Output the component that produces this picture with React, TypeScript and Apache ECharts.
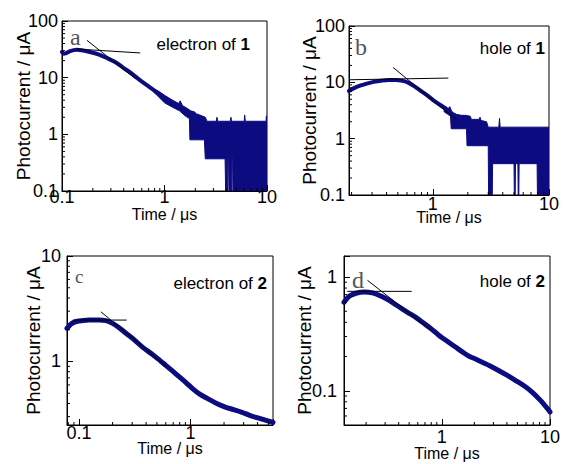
import React, { useEffect, useRef } from "react";
import * as echarts from "echarts";

const NAVY = "#0c0c80";
const SANS = "'Liberation Sans', Arial, sans-serif";
const SERIF = "'Liberation Serif', 'Times New Roman', serif";

// ---- Panel a: electron of 1 ----
const aTime = [0.1, 0.104, 0.11, 0.12, 0.13, 0.14, 0.155, 0.17, 0.2, 0.23, 0.27, 0.33, 0.4, 0.48, 0.56, 0.7, 0.85, 1.0, 1.2];
const aCurr = [28.4, 26.5, 27.2, 29.3, 30.6, 31.0, 30.5, 29.5, 27.5, 25.5, 22.5, 18.9, 14.8, 11.8, 9.4, 7.0, 5.4, 4.3, 3.4];
const aBandTopT = [0.8, 0.9, 1.0, 1.1, 1.2, 1.3, 1.38, 1.42, 1.5, 1.6, 1.7, 1.8, 1.95, 2.05, 2.2, 2.35, 2.5, 2.6, 3.2, 3.25, 3.3, 4.4, 4.45, 4.5, 6.0, 6.05, 6.15, 9.8, 9.85, 10];
const aBandTopV = [6.3, 5.6, 4.9, 4.4, 4.0, 3.7, 3.5, 3.9, 3.2, 3.0, 2.8, 2.6, 2.5, 2.3, 2.2, 2.1, 2.0, 1.7, 1.7, 2.0, 1.7, 1.7, 2.0, 1.7, 1.7, 2.2, 1.7, 1.7, 2.1, 2.1];
const aBandBotT = [0.8, 1.0, 1.2, 1.4, 1.6, 1.75, 1.77, 2.45, 2.5, 3.9, 3.95, 4.12, 4.15, 4.22, 4.25, 4.52, 4.55, 4.62, 4.65, 10];
const aBandBotV = [5.4, 3.6, 3.0, 2.6, 2.1, 1.9, 0.8, 0.8, 0.37, 0.37, 0.1, 0.1, 0.37, 0.37, 0.1, 0.1, 0.37, 0.37, 0.1, 0.1];
const aFitFlatT = [0.14, 0.58];
const aFitFlatV = [32, 27.3];
const aFitSteepT = [0.175, 0.52];
const aFitSteepV = [45.6, 9.6];

// ---- Panel b: hole of 1 ----
const bTime = [0.19, 0.21, 0.24, 0.27, 0.31, 0.36, 0.42, 0.48, 0.55, 0.62, 0.7, 0.8, 0.9, 1.0, 1.15, 1.3];
const bCurr = [7.0, 7.9, 8.8, 9.5, 10.2, 10.7, 11.0, 11.0, 10.6, 9.8, 8.4, 6.9, 5.8, 4.9, 4.0, 3.4];
const bBandTopT = [1.25, 1.35, 1.4, 1.45, 1.5, 1.6, 1.75, 1.9, 2.1, 2.15, 2.5, 2.55, 2.6, 2.9, 3.0, 3.7, 3.75, 3.8, 10];
const bBandTopV = [3.7, 3.4, 3.7, 3.1, 2.9, 2.7, 2.6, 2.6, 2.5, 2.2, 2.2, 2.4, 2.1, 2.0, 1.6, 1.6, 2.3, 1.6, 1.6];
const bBandBotT = [1.25, 1.35, 1.42, 1.44, 1.95, 1.97, 3.0, 3.02, 3.25, 3.27, 5.0, 5.03, 5.12, 5.15, 5.4, 5.43, 5.5, 5.53, 7.9, 7.95, 10];
const bBandBotV = [3.0, 2.7, 2.5, 1.5, 1.5, 0.75, 0.75, 0.1, 0.1, 0.36, 0.36, 0.1, 0.1, 0.36, 0.36, 0.1, 0.1, 0.36, 0.36, 0.1, 0.1];
const bFitFlatT = [0.19, 1.36];
const bFitFlatV = [11.1, 11.9];
const bFitSteepT = [0.455, 1.6];
const bFitSteepV = [18.4, 2.16];

// ---- Panel c: electron of 2 ----
const cTime = [0.078, 0.084, 0.09, 0.1, 0.123, 0.152, 0.174, 0.2, 0.23, 0.264, 0.31, 0.373, 0.45, 0.528, 0.6, 0.697, 0.8, 0.92, 1.05, 1.21, 1.45, 1.72, 2.05, 2.43, 2.9, 3.44, 4.1, 4.87, 5.5];
const cCurr = [2.06, 2.25, 2.35, 2.42, 2.47, 2.48, 2.44, 2.3, 2.08, 1.85, 1.62, 1.36, 1.18, 1.03, 0.92, 0.805, 0.71, 0.625, 0.55, 0.49, 0.44, 0.4, 0.37, 0.35, 0.33, 0.307, 0.29, 0.275, 0.265];
const cFitFlatT = [0.088, 0.268];
const cFitFlatV = [2.47, 2.47];
const cFitSteepT = [0.157, 0.607];
const cFitSteepV = [2.96, 0.9];

// ---- Panel d: hole of 2 ----
const dTime = [0.125, 0.13, 0.14, 0.161, 0.192, 0.229, 0.283, 0.33, 0.376, 0.43, 0.5, 0.58, 0.663, 0.8, 0.945, 1.15, 1.35, 1.55, 1.79, 2.05, 2.37, 2.8, 3.38, 4.0, 4.82, 5.8, 6.87, 8.2, 9.8, 10];
const dCurr = [0.6, 0.63, 0.68, 0.72, 0.74, 0.725, 0.67, 0.62, 0.57, 0.525, 0.48, 0.44, 0.4, 0.35, 0.306, 0.268, 0.241, 0.22, 0.201, 0.19, 0.178, 0.165, 0.15, 0.137, 0.123, 0.11, 0.097, 0.082, 0.067, 0.065];
const dFitFlatT = [0.134, 0.528];
const dFitFlatV = [0.748, 0.748];
const dFitSteepT = [0.206, 0.8];
const dFitSteepV = [0.935, 0.34];

// ---- minor tick positions ----
const aXMinor = [0.2, 0.3, 0.4, 0.5, 0.6, 0.7, 0.8, 0.9, 2, 3, 4, 5, 6, 7, 8, 9];
const aYMinor = [0.2, 0.3, 0.4, 0.5, 0.6, 0.7, 0.8, 0.9, 2, 3, 4, 5, 6, 7, 8, 9, 20, 30, 40, 50, 60, 70, 80, 90];
const bXMinor = [0.2, 0.3, 0.4, 0.5, 0.6, 0.7, 0.8, 0.9, 2, 3, 4, 5, 6, 7, 8, 9];
const bYMinor = aYMinor;
const cXMinor = [0.08, 0.09, 0.2, 0.3, 0.4, 0.5, 0.6, 0.7, 0.8, 0.9, 2, 3, 4, 5];
const cYMinor = [0.3, 0.4, 0.5, 0.6, 0.7, 0.8, 0.9, 2, 3, 4, 5, 6, 7, 8, 9];
const dXMinor = [0.2, 0.3, 0.4, 0.5, 0.6, 0.7, 0.8, 0.9, 2, 3, 4, 5, 6, 7, 8, 9];
const dYMinor = [0.06, 0.07, 0.08, 0.09, 0.2, 0.3, 0.4, 0.5, 0.6, 0.7, 0.8, 0.9];

const zip = (t: number[], v: number[]) => t.map((x, i) => [x, v[i]]);

const tickLabel = (v: number) => {
  const l = Math.log10(v);
  const e = Math.round(l);
  if (Math.abs(l - e) > 1e-6) return "";
  return e >= 0 ? String(Math.pow(10, e)) : Math.pow(10, e).toFixed(-e);
};

function mkX(gi: number, min: number, max: number, margin: number, gap: number) {
  return {
    type: "log", logBase: 10, gridIndex: gi, min, max,
    name: "Time / μs", nameLocation: "middle", nameGap: gap, nameMoveOverlap: false,
    nameTextStyle: { fontFamily: SANS, fontSize: 16, color: "#000", lineHeight: 12 },
    axisLine: { show: true, onZero: false, lineStyle: { color: "#000", width: 1 } },
    axisTick: { show: true, inside: true, length: 6, lineStyle: { color: "#000", width: 1 } },
    axisLabel: { show: true, fontFamily: SANS, fontSize: 18, lineHeight: 12, color: "#000", margin, formatter: tickLabel, showMinLabel: true, showMaxLabel: true, hideOverlap: false },
    splitLine: { show: false },
    minorTick: { show: false },
  };
}
function mkY(gi: number, min: number, max: number, margin: number, gap: number) {
  return {
    type: "log", logBase: 10, gridIndex: gi, min, max,
    name: "Photocurrent / μA", nameLocation: "middle", nameGap: gap, nameRotate: 90, nameMoveOverlap: false,
    nameTextStyle: { fontFamily: SANS, fontSize: 19, color: "#000" },
    axisLine: { show: true, onZero: false, lineStyle: { color: "#000", width: 1 } },
    axisTick: { show: true, inside: true, length: 6, lineStyle: { color: "#000", width: 1 } },
    axisLabel: { show: true, fontFamily: SANS, fontSize: 18, lineHeight: 14, color: "#000", margin, formatter: tickLabel, showMinLabel: true, showMaxLabel: true, hideOverlap: false },
    splitLine: { show: false },
    minorTick: { show: false },
  };
}

function mainLine(gi: number, t: number[], v: number[], w: number) {
  return {
    type: "line", xAxisIndex: gi, yAxisIndex: gi, data: zip(t, v), symbol: "none", showSymbol: false,
    smooth: 0.3, lineStyle: { color: NAVY, width: w, cap: "round", join: "round" }, z: 3, silent: true,
  };
}
function fitLine(gi: number, t: number[], v: number[]) {
  return {
    type: "line", xAxisIndex: gi, yAxisIndex: gi, data: zip(t, v), symbol: "none", showSymbol: false,
    lineStyle: { color: "#000", width: 1 }, z: 6, silent: true,
  };
}
function band(gi: number, topT: number[], topV: number[], botT: number[], botV: number[]) {
  return {
    type: "custom", xAxisIndex: gi, yAxisIndex: gi, silent: true, z: 3, clip: true,
    data: [[topT[0], topV[0]]],
    renderItem: (params: any, api: any) => {
      const pts: number[][] = [];
      for (let i = 0; i < topT.length; i++) pts.push(api.coord([topT[i], topV[i]]));
      for (let i = botT.length - 1; i >= 0; i--) pts.push(api.coord([botT[i], botV[i]]));
      return { type: "polygon", shape: { points: pts }, style: { fill: NAVY, stroke: NAVY, lineWidth: 1 } };
    },
  };
}
function ticks(gi: number, vals: number[], dir: "x" | "y", other: number) {
  return {
    type: "custom", xAxisIndex: gi, yAxisIndex: gi, silent: true, z: 7, clip: false,
    data: vals.map((v) => (dir === "x" ? [v, other] : [other, v])),
    renderItem: (params: any, api: any) => {
      const cs = params.coordSys;
      const p = api.coord([api.value(0), api.value(1)]);
      if (dir === "x") {
        const y = cs.y + cs.height;
        return { type: "line", shape: { x1: p[0], y1: y, x2: p[0], y2: y - 3 }, style: { stroke: "#000", lineWidth: 1 } };
      }
      const x = cs.x;
      return { type: "line", shape: { x1: x, y1: p[1], x2: x + 3, y2: p[1] }, style: { stroke: "#000", lineWidth: 1 } };
    },
  };
}

function label(x: number, y: number, name: string, num: string) {
  return {
    type: "text", x, y, z: 10,
    style: {
      text: `{n|${name}}{b|${num}}`,
      align: "right", verticalAlign: "middle",
      rich: {
        n: { fontFamily: SANS, fontSize: 17, color: "#000" },
        b: { fontFamily: SANS, fontSize: 17, fontWeight: "bold", color: "#000" },
      },
    },
  };
}
function letter(x: number, y: number, ch: string, size: number) {
  return {
    type: "text", x, y, z: 10,
    style: { text: ch, fontFamily: SERIF, fontSize: size, fill: "#555", align: "left", verticalAlign: "middle" },
  };
}

const gridBase = { show: true, borderColor: "#000", borderWidth: 1, backgroundColor: "transparent", containLabel: false, outerBoundsMode: "none" };

const option: any = {
  animation: false,
  backgroundColor: "#fff",
  grid: [
    { ...gridBase, left: 62, top: 21, width: 205, height: 170 },
    { ...gridBase, left: 349, top: 26, width: 200, height: 169 },
    { ...gridBase, left: 67, top: 256, width: 206, height: 169 },
    { ...gridBase, left: 344, top: 256, width: 206, height: 169 },
  ],
  xAxis: [
    mkX(0, 0.1, 10, 0, 17),
    mkX(1, 0.19, 10, 3, 16),
    mkX(2, 0.078, 5.5, 2, 17),
    mkX(3, 0.125, 10, 6, 22),
  ],
  yAxis: [
    mkY(0, 0.1, 100, 4, 29),
    mkY(1, 0.1, 100, 4, 30),
    mkY(2, 0.25, 10, 6, 24),
    mkY(3, 0.05, 1.53, 7, 30),
  ],
  series: [
    band(0, aBandTopT, aBandTopV, aBandBotT, aBandBotV),
    mainLine(0, aTime, aCurr, 4),
    fitLine(0, aFitFlatT, aFitFlatV),
    fitLine(0, aFitSteepT, aFitSteepV),
    ticks(0, aXMinor, "x", 0.1),
    ticks(0, aYMinor, "y", 0.1),

    band(1, bBandTopT, bBandTopV, bBandBotT, bBandBotV),
    mainLine(1, bTime, bCurr, 4),
    fitLine(1, bFitFlatT, bFitFlatV),
    fitLine(1, bFitSteepT, bFitSteepV),
    ticks(1, bXMinor, "x", 0.1),
    ticks(1, bYMinor, "y", 0.19),

    mainLine(2, cTime, cCurr, 5),
    fitLine(2, cFitFlatT, cFitFlatV),
    fitLine(2, cFitSteepT, cFitSteepV),
    ticks(2, cXMinor, "x", 0.25),
    ticks(2, cYMinor, "y", 0.078),

    mainLine(3, dTime, dCurr, 5),
    fitLine(3, dFitFlatT, dFitFlatV),
    fitLine(3, dFitSteepT, dFitSteepV),
    ticks(3, dXMinor, "x", 0.05),
    ticks(3, dYMinor, "y", 0.125),
  ],
  graphic: [
    letter(70, 37, "a", 24),
    label(250, 44, "electron of ", "1"),
    letter(355, 47, "b", 24),
    label(545, 48, "hole of ", "1"),
    letter(75, 276, "c", 19),
    label(267, 283, "electron of ", "2"),
    letter(352, 280, "d", 24),
    label(545, 281, "hole of ", "2"),
  ],
};

export default function App() {
  const ref = useRef<HTMLDivElement>(null);
  useEffect(() => {
    const chart = echarts.init(ref.current as HTMLDivElement, null, { renderer: "svg" });
    chart.setOption(option);
    return () => chart.dispose();
  }, []);
  return (
    <div
      ref={ref}
      style={{ position: "fixed", left: 0, top: 0, width: 564, height: 464, background: "#fff" }}
    />
  );
}
